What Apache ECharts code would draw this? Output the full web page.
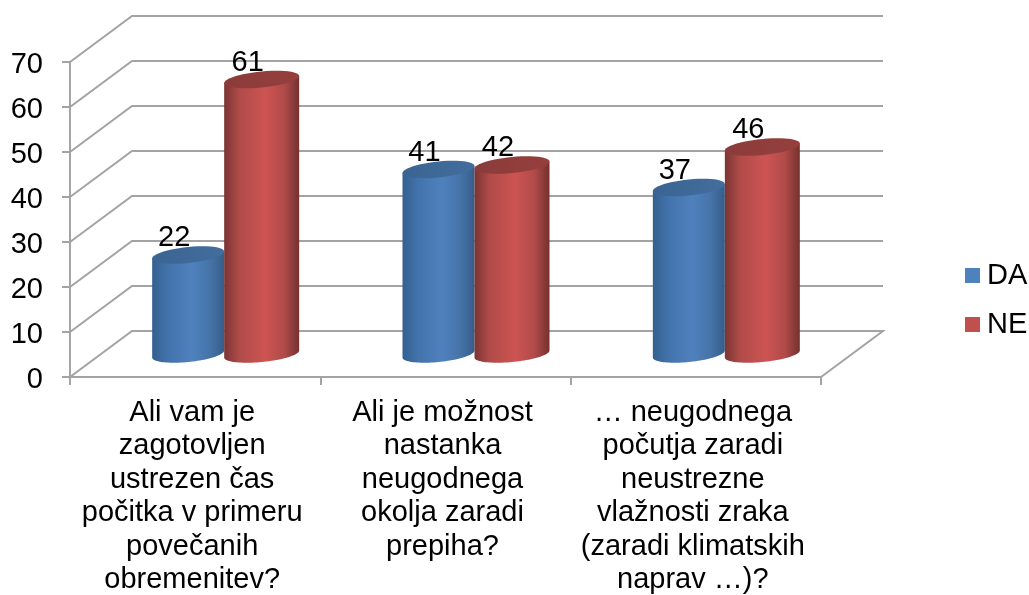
<!DOCTYPE html>
<html lang="sl">
<head>
	<meta charset="UTF-8">
	<title>Chart</title>
	<style>
		* { margin: 0; padding: 0; }
		#box { width: 1029px; height: 595px; }
	</style>
	<script src="https://cdn.jsdelivr.net/npm/echarts@6/dist/echarts.min.js"></script>
</head>
<body>
<div id="box"></div>
<script>
	const categories = [
		'Ali vam je\nzagotovljen\nustrezen čas\npočitka v primeru\npovečanih\nobremenitev?',
		'Ali je možnost\nnastanka\nneugodnega\nokolja zaradi\nprepiha?',
		'… neugodnega\npočutja zaradi\nneustrezne\nvlažnosti zraka\n(zaradi klimatskih\nnaprav …)?'
	];
	const daValues = [22, 41, 37];
	const neValues = [61, 42, 46];
	const yTicks = [0, 10, 20, 30, 40, 50, 60, 70];

	const FONT = '"Liberation Sans", Arial, sans-serif';
	const GRID_COLOR = '#a3a3a3';
	// oblique depth of the fake 3D box, in pixels
	const DEPTH_X = 62;
	const DEPTH_Y = -46;

	const myEcharts = echarts.init(document.getElementById('box'));

	// back wall + side lines, one polyline per tick
	function renderWall(params, api) {
		const v = api.value(0);
		const half = api.size([1, 0])[0] / 2;
		const p0 = api.coord([0, v]);
		const p2 = api.coord([categories.length - 1, v]);
		const left = p0[0] - half;
		const right = p2[0] + half;
		const pts = [[left, p0[1]], [left + DEPTH_X, p0[1] + DEPTH_Y], [right + DEPTH_X, p0[1] + DEPTH_Y]];
		if (v === 0) {
			pts.push([right, p0[1]]); // floor closes on the right
		}
		return {
			type: 'polyline',
			shape: {points: pts},
			style: {fill: null, stroke: GRID_COLOR, lineWidth: 2}
		};
	}

	function ellipsePts(cx, cy, rx, ry, tilt, from, to) {
		const pts = [];
		const n = 48;
		for (let i = 0; i <= n; i++) {
			const t = from + (to - from) * i / n;
			pts.push([cx + rx * Math.cos(t), cy + ry * Math.sin(t) - tilt * Math.cos(t)]);
		}
		return pts;
	}

	function cylinder(side, rx, bodyStops, topStops) {
		return function (params, api) {
			const idx = api.value(0);
			const val = api.value(1);
			const base = api.coord([idx, 0]);
			const top = api.coord([idx, val]);
			const cx = base[0] + DEPTH_X / 2 + side;
			const by = base[1] + DEPTH_Y / 2;
			const ty = top[1] + DEPTH_Y / 2;
			const ry = 8;
			const tilt = 3.5;
			const lower = ellipsePts(cx, by, rx, ry, tilt, Math.PI, 0);
			const body = [[cx - rx, ty + tilt]].concat(lower, [[cx + rx, ty - tilt]]);
			return {
				type: 'group',
				children: [
					{
						type: 'text',
						style: {
							text: String(val), x: cx - 14, y: ty - 17,
							fill: '#000', font: '29px ' + FONT, align: 'center', verticalAlign: 'middle'
						}
					},
					{
						type: 'polygon',
						shape: {points: body},
						style: {fill: new echarts.graphic.LinearGradient(0, 0, 1, 0, bodyStops)}
					},
					{
						type: 'polygon',
						shape: {points: ellipsePts(cx, ty, rx, ry, tilt, 0, Math.PI * 2)},
						style: {fill: new echarts.graphic.LinearGradient(0, 0, 1, 0, topStops)}
					}
				]
			};
		};
	}

	const blueBody = [
		{offset: 0, color: '#33608f'}, {offset: 0.22, color: '#4373ac'}, {offset: 0.55, color: '#4f81bd'},
		{offset: 0.8, color: '#4674a9'}, {offset: 1, color: '#355d89'}
	];
	const blueTop = [{offset: 0, color: '#3a6593'}, {offset: 1, color: '#426d9c'}];
	const redBody = [
		{offset: 0, color: '#7a3533'}, {offset: 0.2, color: '#b04b49'}, {offset: 0.55, color: '#cd5452'},
		{offset: 0.8, color: '#b04b49'}, {offset: 1, color: '#74312f'}
	];
	const redTop = [{offset: 0, color: '#8a3c3a'}, {offset: 1, color: '#963f3d'}];

	myEcharts.setOption({
		animation: false,
		textStyle: {fontFamily: FONT},
		grid: {left: 70, right: 208, top: 62, bottom: 218, outerBoundsMode: 'none'},
		legend: {
			orient: 'vertical',
			left: 965,
			top: 261,
			data: ['DA', 'NE'],
			icon: 'rect',
			itemWidth: 15,
			itemHeight: 15,
			itemGap: 20,
			padding: 0,
			textStyle: {fontSize: 29, color: '#000', fontFamily: FONT, padding: [0, 0, 0, 2]}
		},
		xAxis: {
			type: 'category',
			data: categories,
			axisLine: {lineStyle: {color: GRID_COLOR, width: 2}},
			axisTick: {show: true, length: 8, lineStyle: {color: GRID_COLOR, width: 2}},
			axisLabel: {fontSize: 29, color: '#000', lineHeight: 33.5, margin: 19, interval: 0, fontFamily: FONT, padding: [0, 6, 0, 0]}
		},
		yAxis: {
			type: 'value',
			min: 0,
			max: 70,
			interval: 10,
			splitLine: {show: false},
			axisLine: {show: true, lineStyle: {color: GRID_COLOR, width: 2}},
			axisTick: {show: true, length: 8, lineStyle: {color: GRID_COLOR, width: 2}},
			axisLabel: {fontSize: 29, color: '#000', margin: 27, fontFamily: FONT, verticalAlign: 'top', lineHeight: 5}
		},
		series: [
			{
				type: 'custom',
				name: 'wall',
				z: 1,
				silent: true,
				renderItem: renderWall,
				encode: {y: 0},
				data: yTicks.map(function (v) { return [v]; })
			},
			{
				type: 'custom',
				name: 'DA',
				z: 2,
				itemStyle: {color: '#4f81bd'},
				renderItem: cylinder(-38, 36, blueBody, blueTop),
				encode: {x: 0, y: 1},
				data: daValues.map(function (v, i) { return [i, v]; })
			},
			{
				type: 'custom',
				name: 'NE',
				z: 3,
				itemStyle: {color: '#c0504d'},
				renderItem: cylinder(35.5, 37.5, redBody, redTop),
				encode: {x: 0, y: 1},
				data: neValues.map(function (v, i) { return [i, v]; })
			}
		]
	});
</script>
</body>
</html>
